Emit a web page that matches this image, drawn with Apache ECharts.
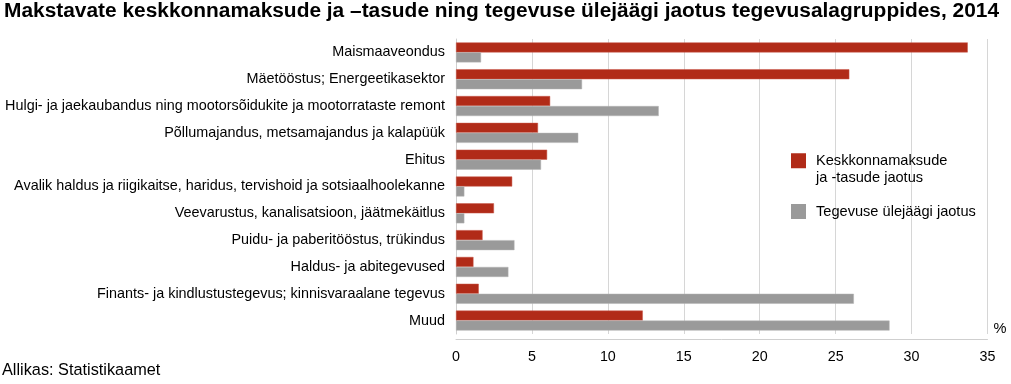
<!DOCTYPE html>
<html>
<head>
<meta charset="utf-8">
<script src="https://cdn.jsdelivr.net/npm/echarts@6/dist/echarts.min.js"></script>
<style>
html,body{margin:0;padding:0;background:#fff;}
#c{width:1011px;height:384px;}
</style>
</head>
<body>
<div id="c"></div>
<script>
const categories = [
  'Maismaaveondus',
  'Mäetööstus; Energeetikasektor',
  'Hulgi- ja jaekaubandus ning mootorsõidukite ja mootorrataste remont',
  'Põllumajandus, metsamajandus ja kalapüük',
  'Ehitus',
  'Avalik haldus ja riigikaitse, haridus, tervishoid ja sotsiaalhoolekanne',
  'Veevarustus, kanalisatsioon, jäätmekäitlus',
  'Puidu- ja paberitööstus, trükindus',
  'Haldus- ja abitegevused',
  'Finants- ja kindlustustegevus; kinnisvaraalane tegevus',
  'Muud'
];
const seriesNames = ['Keskkonnamaksude\nja -tasude jaotus', 'Tegevuse ülejäägi jaotus'];
const feesShare = [33.7, 25.9, 6.2, 5.4, 6.0, 3.7, 2.5, 1.75, 1.15, 1.5, 12.3];
const surplusShare = [1.65, 8.3, 13.35, 8.05, 5.6, 0.55, 0.55, 3.85, 3.45, 26.2, 28.55];
const xTicks = [0, 5, 10, 15, 20, 25, 30, 35];
const titleText = 'Makstavate keskkonnamaksude ja –tasude ning tegevuse ülejäägi jaotus tegevusalagruppides, 2014';
const sourceText = 'Allikas: Statistikaamet';

const RED = '#B12B18';
const GRAY = '#9A9A9A';
const FONT = 'Liberation Sans, Arial, sans-serif';

const chart = echarts.init(document.getElementById('c'));
chart.setOption({
  animation: false,
  backgroundColor: '#fff',
  textStyle: {fontFamily: FONT},
  title: [
    {text: titleText, left: 4, top: 1, padding: 0,
     textStyle: {fontFamily: FONT, fontSize: 20.9, fontWeight: 'bold', color: '#000'}},
    {text: sourceText, left: 2, top: 363, padding: 0,
     textStyle: {fontFamily: FONT, fontSize: 16.3, fontWeight: 'normal', color: '#000'}}
  ],
  legend: [
    {data: [seriesNames[0]], orient: 'vertical', left: 791, top: 134.5, padding: 0,
     itemWidth: 15, itemHeight: 15, itemGap: 0, icon: 'rect',
     itemStyle: {borderWidth: 0},
     formatter: name => ' \n' + name,
     textStyle: {fontFamily: FONT, fontSize: 14.6, color: '#000', lineHeight: 17.5, padding: [0, 0, 0, 5]}},
    {data: [seriesNames[1]], orient: 'vertical', left: 791, top: 202.5, padding: 0,
     itemWidth: 15, itemHeight: 15, itemGap: 0, icon: 'rect',
     itemStyle: {borderWidth: 0},
     textStyle: {fontFamily: FONT, fontSize: 14.6, color: '#000', lineHeight: 18, padding: [0, 0, 0, 5]}}
  ],
  grid: {left: 456, right: 23.5, top: 39, bottom: 50, containLabel: false},
  xAxis: {
    type: 'value', min: 0, max: 35, interval: 5, offset: 5,
    name: '%', nameLocation: 'end', nameGap: 6,
    nameTextStyle: {fontFamily: FONT, fontSize: 14.6, color: '#000', verticalAlign: 'bottom', padding: [0, 0, 3, 0]},
    axisLine: {show: true, lineStyle: {color: '#cfcfcf', width: 1}},
    axisTick: {show: false},
    axisLabel: {fontFamily: FONT, fontSize: 14.3, color: '#000', margin: 11,
      formatter: v => xTicks.includes(v) ? String(v) : ''},
    splitLine: {show: true, lineStyle: {color: '#d6d6d6', width: 1}}
  },
  yAxis: {
    type: 'category', data: categories, inverse: true,
    axisLine: {show: true, lineStyle: {color: '#cfcfcf', width: 1}},
    axisTick: {show: false},
    axisLabel: {fontFamily: FONT, fontSize: 14.4, color: '#000', margin: 11},
    splitLine: {show: false}
  },
  series: [
    {name: seriesNames[0], type: 'bar', data: feesShare, barWidth: 10, barGap: '0%',
     itemStyle: {color: RED, borderColor: '#C9584A', borderWidth: 0.5}},
    {name: seriesNames[1], type: 'bar', data: surplusShare, barWidth: 10, barGap: '0%',
     itemStyle: {color: GRAY, borderColor: '#B5B5B5', borderWidth: 0.5}}
  ]
});
</script>
</body>
</html>
